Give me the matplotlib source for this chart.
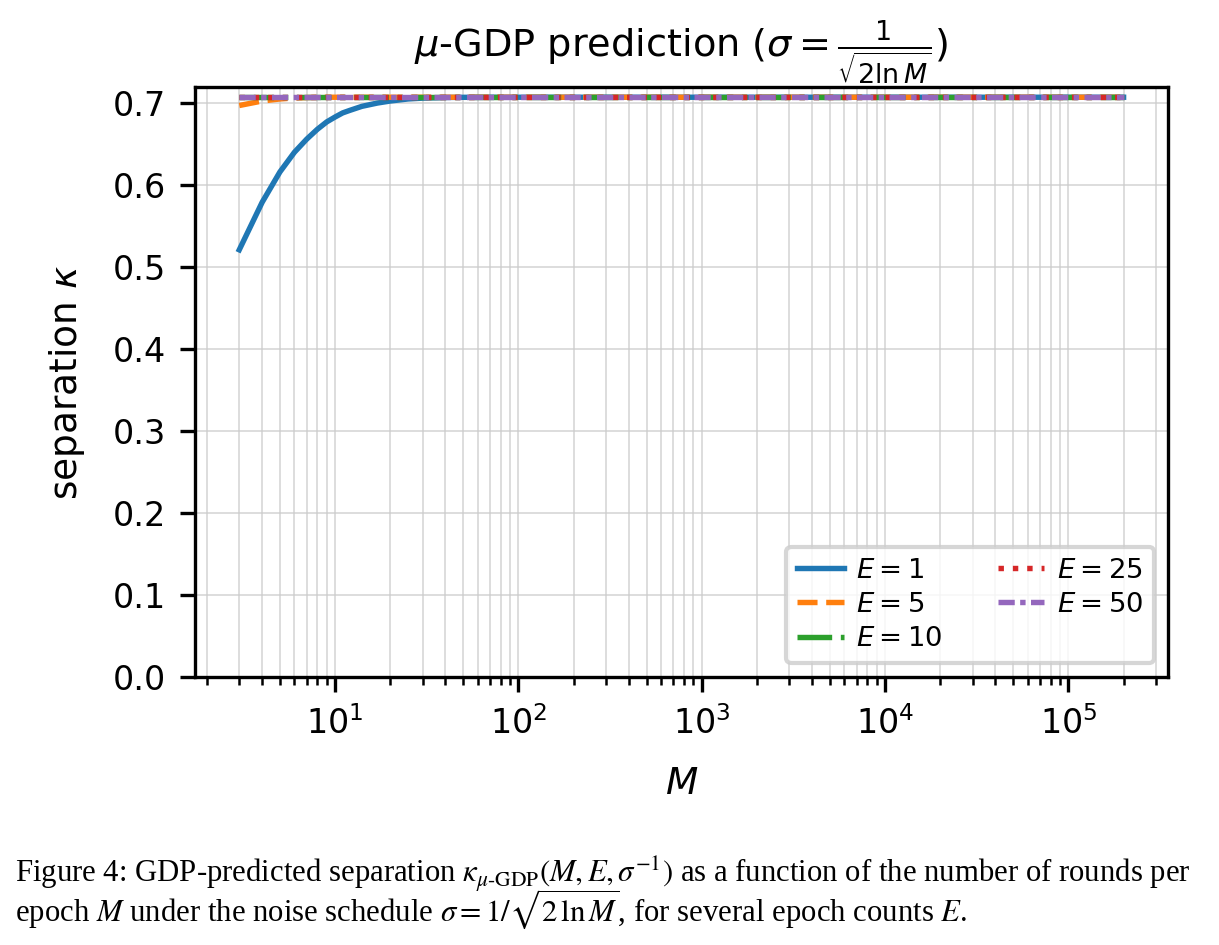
import matplotlib
matplotlib.use("Agg")
import matplotlib.pyplot as plt

# rounds per epoch M (shared x grid for all curves)
M_vals = [3, 4, 5, 6, 7, 8, 9, 10, 11, 12, 14, 17, 20, 25, 30, 40, 50, 100,
          1000, 10000, 100000, 200000]

# separation kappa, one list per epoch count E
kappa_E1 = [0.521, 0.579, 0.616, 0.640, 0.656, 0.668, 0.677, 0.683, 0.688,
            0.691, 0.696, 0.700, 0.7025, 0.705, 0.706, 0.7068, 0.7070,
            0.7071, 0.7071, 0.7071, 0.7071, 0.7071]
kappa_E5 = [0.697, 0.7025, 0.705, 0.7062, 0.7067, 0.7070, 0.7071, 0.7071,
            0.7071, 0.7071, 0.7071, 0.7071, 0.7071, 0.7071, 0.7071, 0.7071,
            0.7071, 0.7071, 0.7071, 0.7071, 0.7071, 0.7071]
kappa_E10 = [0.7071] * len(M_vals)
kappa_E25 = [0.7071] * len(M_vals)
kappa_E50 = [0.7071] * len(M_vals)

epochs = [1, 5, 10, 25, 50]
series = [kappa_E1, kappa_E5, kappa_E10, kappa_E25, kappa_E50]
styles = ["-", "--", "-.", ":", (0, (3, 1, 1, 1))]
colors = ["tab:blue", "tab:orange", "tab:green", "tab:red", "tab:purple"]

fig = plt.figure(figsize=(1219 / 300, 945 / 300), dpi=300)
ax = fig.add_axes([0.160, 0.2836, 0.798, 0.6247])

for E, k, ls, c in zip(epochs, series, styles, colors):
    ax.plot(M_vals, k, ls=ls, color=c, lw=1.3, label=f"$E={E}$")

ax.set_xscale("log")
ax.set_ylim(0, 0.72)
ax.grid(True, which="both", color="0.8", lw=0.4, alpha=0.8)
ax.tick_params(labelsize=8)
ax.set_xlabel("$M$", fontsize=9, labelpad=6)
ax.set_ylabel(r"separation $\kappa$", fontsize=9, labelpad=6)
ax.set_title(r"$\mu$-GDP prediction ($\sigma=\frac{1}{\sqrt{2\ln M}}$)", fontsize=9.2)
ax.legend(loc="lower right", ncol=2, fontsize=6.6, handlelength=1.7,
          handletextpad=0.45, labelspacing=0.3, borderaxespad=0.5)

cap1 = (r"Figure 4: GDP-predicted separation $\kappa_{\mu\text{-GDP}}(M, E, \sigma^{-1})$"
        r" as a function of the number of rounds per")
cap2 = (r"epoch $M$ under the noise schedule $\sigma = 1/\sqrt{2\,\ln M}$,"
        r" for several epoch counts $E$.")
for y, txt in [(1 - 884 / 945, cap1), (1 - 921 / 945, cap2)]:
    fig.text(15 / 1219, y, txt, fontsize=7.4, family="Liberation Serif",
             math_fontfamily="stix", va="baseline", ha="left")

fig.savefig("out.png", dpi=300)
